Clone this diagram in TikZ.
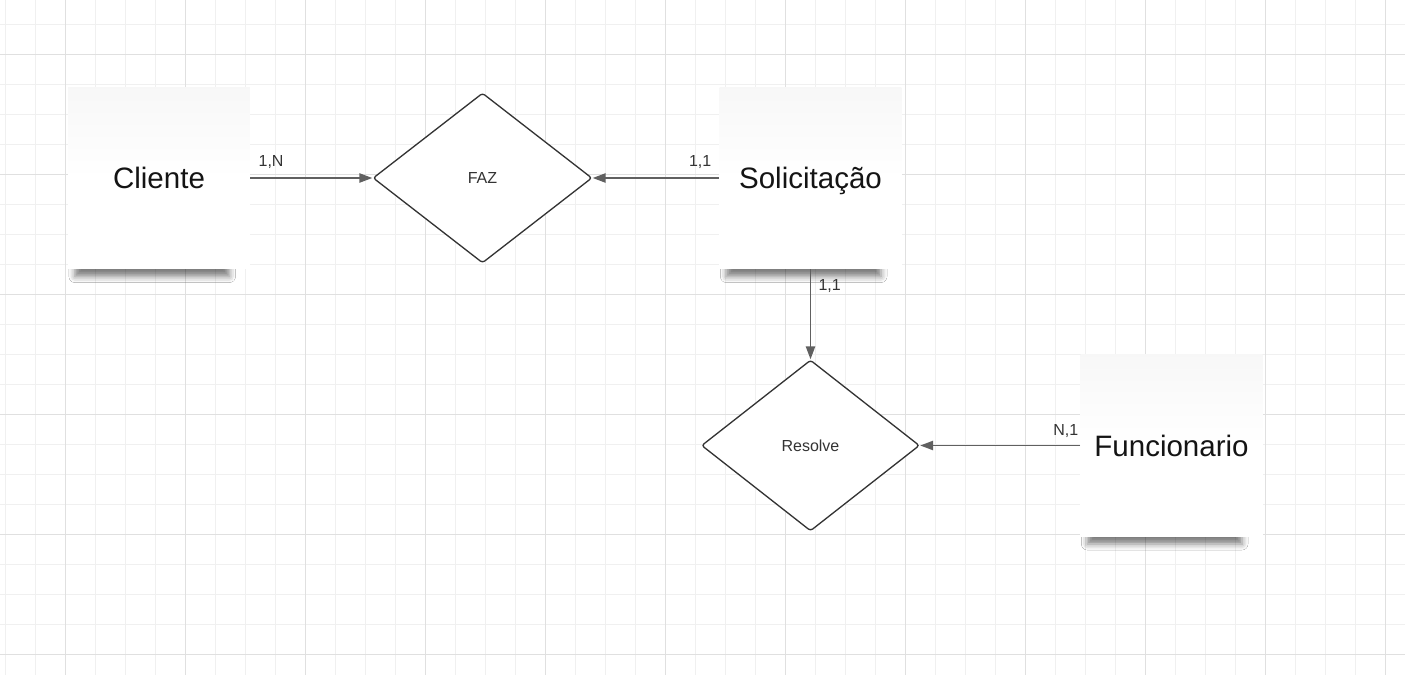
\documentclass[tikz,border=0pt]{standalone}
\usepackage{fontspec}
\setmainfont{Liberation Sans}
\usepackage{tikz}
\usetikzlibrary{shapes.geometric,arrows.meta,shadows.blur}

\definecolor{gridminor}{HTML}{F0F0F0}
\definecolor{gridmajor}{HTML}{E0E0E0}
\definecolor{linkgray}{HTML}{606060}
\definecolor{edgedark}{HTML}{333333}

\begin{document}
\begin{tikzpicture}[x=0.02cm, y=-0.02cm,
  entity/.style={rectangle, minimum width=3.64cm, minimum height=3.64cm,
    inner sep=0pt, text height=12pt, text depth=0pt,
    top color=black!3, bottom color=white, middle color=white,
    blur shadow={shadow xshift=-0.16cm, shadow yshift=-0.5cm,
      shadow scale=0.85, shadow blur radius=0.14cm, shadow opacity=50},
    font=\fontsize{16.8}{20}\selectfont, text=black!92},
  relation/.style={diamond, draw=edgedark, line width=0.75pt, fill=white,
    rounded corners=1.5pt, inner sep=0pt,
    font=\fontsize{9.1}{11}\selectfont, text=edgedark},
  link/.style={draw=linkgray, line width=1.1pt,
    -{Triangle[length=7.4pt,width=5.2pt]}},
  card/.style={inner sep=0pt, font=\fontsize{9.1}{11}\selectfont, text=edgedark}]

% Canvas and grid
\fill[white] (0,0) rectangle (1405,675);
\useasboundingbox (0,0) rectangle (1405,675);
\foreach \x in {5,35,...,1395}
  \draw[gridminor, line width=0.45pt] (\x,0) -- (\x,675);
\foreach \y in {24,54,...,670}
  \draw[gridminor, line width=0.45pt] (0,\y) -- (1405,\y);
\foreach \x in {65,185,...,1385}
  \draw[gridmajor, line width=0.55pt] (\x,0) -- (\x,675);
\foreach \y in {54,174,...,654}
  \draw[gridmajor, line width=0.55pt] (0,\y) -- (1405,\y);

% Entities
\node[entity] (cliente) at (159,178) {Cliente};
\node[entity] (solic) at (810.5,178) {Solicitação};
\node[entity] (func) at (1171.5,445.5) {Funcionario};

% Relationships
\node[relation, minimum width=4.38cm, minimum height=3.4cm] (faz) at (482.5,178) {FAZ};
\node[relation, minimum width=4.36cm, minimum height=3.42cm] (resolve) at (810.5,445.5) {Resolve};

% Connectors with cardinalities
\draw[link] (cliente) -- node[card, pos=.17, above=5pt] {1,N} (faz);
\draw[link] (solic) -- node[card, pos=.15, above=5pt] {1,1} (faz);
\draw[link] (solic) -- node[card, pos=.18, right=4pt] {1,1} (resolve);
\draw[link] (func) -- node[card, pos=.09, above=4pt] {N,1} (resolve);

\end{tikzpicture}
\end{document}
